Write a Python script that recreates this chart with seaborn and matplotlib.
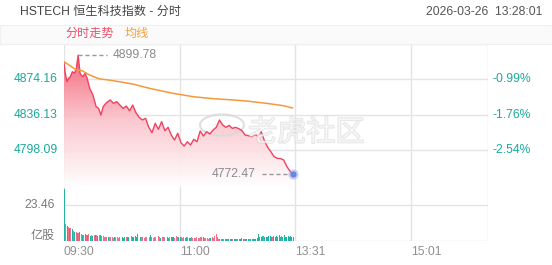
import numpy as np
import matplotlib
matplotlib.use("Agg")
import matplotlib.pyplot as plt
import matplotlib.patheffects as pe
from matplotlib.colors import LinearSegmentedColormap
from matplotlib.patches import Rectangle, Circle
import seaborn as sns

# ---------------- data ----------------
title = "HSTECH 恒生科技指数 - 分时"
stamp = "2026-03-26  13:28:01"
legend_labels = ["分时走势", "均线"]

price_minutes = [0, 1, 2.3, 3.5, 5, 6.5, 8, 9.5, 11, 12.5, 14.5, 16.5, 18, 20, 22.5, 25, 27,
                 28.7, 30.5, 33, 36, 38.5, 41, 43.5, 46, 48.5, 51, 53.5, 56, 58.5, 61, 63.5,
                 66, 68.5, 71, 73.5, 76, 78.5, 81, 83.5, 86, 88.5, 91, 93.5, 96, 98.5, 101,
                 103.5, 106, 108.5, 111, 113.5, 116, 118.5, 121, 123.5, 126, 128.5, 131,
                 133.5, 136, 138.5, 141, 143.5, 146, 148.5, 151, 153.5, 156, 158.5, 161,
                 163.5, 166, 168.5, 171, 173.5, 176, 178]
price_values = [4891.7, 4880.2, 4871.3, 4874.9, 4876.7, 4882.0, 4880.2, 4884.5, 4899.78,
                4880.2, 4876.7, 4880.2, 4874.9, 4864.2, 4857.0, 4844.5, 4842.7, 4835.6,
                4844.5, 4848.8, 4851.7, 4848.1, 4849.9, 4846.3, 4842.7, 4845.2, 4840.2,
                4846.3, 4838.1, 4833.1, 4830.3, 4832.0, 4822.4, 4816.7, 4826.7, 4820.3,
                4828.5, 4818.8, 4822.4, 4814.2, 4808.8, 4816.0, 4806.0, 4802.4, 4807.0,
                4803.5, 4809.6, 4807.0, 4818.5, 4813.1, 4817.8, 4815.3, 4819.5, 4822.4,
                4830.3, 4825.0, 4822.4, 4824.5, 4821.3, 4822.4, 4821.0, 4818.8, 4814.2,
                4813.5, 4812.4, 4814.6, 4813.1, 4817.8, 4808.1, 4801.0, 4796.3, 4791.0,
                4789.2, 4788.9, 4787.4, 4780.3, 4775.3, 4772.47]

avg_minutes = [0, 9, 14, 20, 27, 38, 53.5, 66.5, 85, 100.6, 116, 131.7, 142, 157.7, 170.7, 178]
avg_values = [4892.7, 4884.5, 4883.1, 4878.4, 4874.5, 4872.4, 4868.8, 4864.2, 4858.8,
              4855.2, 4853.1, 4851.7, 4850.6, 4848.1, 4845.6, 4843.1]

volume = [34.0, 11.0, 10.0, 9.3, 8.5, 8.3, 7.5, 6.5, 5.6, 6.0,
          5.5, 5.0, 5.6, 4.5, 4.0, 3.8, 4.3, 4.0, 3.6, 4.3,
          3.5, 4.0, 3.5, 3.9, 4.0, 3.6, 3.2, 4.2, 4.0, 3.5,
          3.0, 2.8, 2.6, 2.8, 2.4, 2.6, 2.3, 2.5, 2.2, 2.6,
          2.4, 2.6, 2.2, 2.5, 2.8, 2.4, 2.2, 2.6, 2.3, 2.8,
          2.5, 2.4, 3.0, 2.6, 2.8, 3.2, 2.6, 4.5, 2.8, 2.5,
          2.4, 2.6, 2.2, 2.5, 2.3, 2.8, 2.6, 4.0, 2.6, 2.2,
          2.8, 2.4, 2.6, 3.0, 2.4, 2.2, 2.8, 2.5, 2.3, 2.6,
          2.4, 2.2, 2.6, 2.3, 2.8, 2.5, 2.2, 3.0, 2.4, 2.6,
          2.4, 2.8, 2.2, 2.5, 2.0, 2.3, 2.6, 2.2, 2.0, 2.4,
          2.2, 1.8, 2.1, 2.4, 2.0, 2.2, 2.6, 2.5, 2.6, 2.0,
          1.8, 2.2, 1.6, 2.0, 1.8, 2.4, 2.2, 3.0, 4.5, 2.6,
          1.4, 1.2, 1.0, 1.3, 1.1, 1.5, 1.2, 1.0, 1.4, 1.2,
          1.0, 1.3, 1.6, 1.2, 1.0, 1.4, 1.5, 1.2, 2.0, 1.6,
          1.2, 1.5, 1.0, 1.3, 1.6, 1.2, 1.4, 1.1, 1.5, 1.3,
          2.2, 4.5, 2.8, 2.5, 3.0, 3.5, 2.6, 2.8, 2.4, 3.2,
          3.0, 2.4, 2.8, 3.4, 2.6, 3.0, 2.5, 3.6, 2.8, 3.0,
          2.6, 3.8, 2.8, 2.5, 3.2, 2.6, 3.0, 2.4, 2.8]
volume_dir = ("grgrgrgrgrgrgrgrgrgrgrgrgrgrgr"
              "rrrrgrrrrgrrrrr"
              "gggrgggrgggggrg"
              "rrrrrrrgrrrrrrrgrrrr"
              "ggrgggrrrggrrrggrggr"
              "rrrrrrrrgrrrrrgrrrrr"
              "rgggrggrgggrgggrggggrgggrggggg"
              "gggggrggggggrggggggrggggg")
volume_dir = volume_dir[:len(volume)].ljust(len(volume), "g")

price_ticks = [4874.16, 4836.13, 4798.09]
pct_ticks = ["-0.99%", "-1.76%", "-2.54%"]
vol_tick = 23.46
vol_tick_label = "23.46"
vol_unit = "亿股"
time_ticks = [0, 90, 180, 270]
time_labels = ["09:30", "11:00", "13:31", "15:01"]
high_value = 4899.78
high_minute = 11
last_value = 4772.47
last_minute = 178

# ---------------- style ----------------
sns.set_theme(style="white")
plt.rcParams["font.family"] = ["Liberation Sans", "Noto Sans CJK SC", "DejaVu Sans"]

RED = "#ef4260"
ORANGE = "#f39a3a"
TEAL = "#1aa99b"
GRID = "#e4e4e4"
W, H = 552, 265
FS = 8.7

fig = plt.figure(figsize=(W / 100, H / 100), dpi=100)
fig.patch.set_facecolor("white")

def fx(px):
    return px / W

def fy(py):
    return 1 - py / H

# legend band
fig.patches.append(Rectangle((0, fy(43.5)), 1, (43.5 - 25) / H, transform=fig.transFigure,
                             facecolor="#fafafa", edgecolor="#f0f0f0", lw=0.8, zorder=0))

ax = fig.add_axes([fx(64), fy(187), fx(424), (187 - 43.5) / H])
axv = fig.add_axes([fx(64), fy(241), fx(424), (241 - 187) / H])

YMIN, YMAX = 4758.5, 4912.2
XMAX = 330
for a in (ax, axv):
    a.set_facecolor("none")
    for s in a.spines.values():
        s.set_visible(False)
    a.set_xticks([])
    a.set_yticks([])
    for t in time_ticks + [XMAX]:
        a.axvline(t, color=GRID, lw=1, zorder=0)
    a.set_xlim(0, XMAX)

# price grid
for v in price_ticks + [4912.19]:
    ax.axhline(v, color=GRID, lw=1, zorder=0)

# gradient fill under price line
poly = ax.fill_between(price_minutes, price_values, YMIN, facecolor="none", edgecolor="none")
cmap = LinearSegmentedColormap.from_list("g", ["#ffffff", "#fbc3cb", "#f5566d"])
grad = np.linspace(0, 1, 256).reshape(-1, 1)
im = ax.imshow(grad, extent=[0, last_minute, YMIN, 4900], aspect="auto", origin="lower",
               cmap=cmap, alpha=0.9, zorder=1)
im.set_clip_path(poly.get_paths()[0], transform=ax.transData)

# watermark
ax.add_patch(Circle((222 / W, fy(125)), 22 / W, transform=fig.transFigure,
                    fill=False, edgecolor="#d8d8d8", lw=1.5, alpha=0.8, zorder=2))
fig.text(fx(248), fy(133), "老虎社区", fontsize=21, color="white", alpha=0.45,
         family=["Noto Sans CJK SC"], va="center", ha="left", zorder=3,
         path_effects=[pe.withStroke(linewidth=1.2, foreground="#c8c8c8")])

sns.lineplot(x=price_minutes, y=price_values, ax=ax, color=RED, lw=1.0, zorder=4)
sns.lineplot(x=avg_minutes, y=avg_values, ax=ax, color=ORANGE, lw=1.1, zorder=4)
ax.set_xlim(0, XMAX)
ax.set_ylim(YMIN, YMAX)

# high annotation
ax.plot([high_minute, 33.5], [high_value, high_value], color="#999999", lw=1,
        ls=(0, (3, 2)), zorder=5)
ax.text(38, high_value, f"{high_value:.2f}", color="#8a8a8a", fontsize=FS, va="center", ha="left")
# last annotation
ax.plot([154, 176], [last_value, last_value], color="#999999", lw=1, ls=(0, (3, 2)), zorder=5)
ax.text(149, last_value, f"{last_value:.2f}", color="#8a8a8a", fontsize=FS, va="center", ha="right")
ax.scatter([last_minute], [last_value], s=55, color="#8aa0ea", alpha=0.45, zorder=6, lw=0)
ax.scatter([last_minute], [last_value], s=20, color="#6b84e0", zorder=7, lw=0)

# y labels
ytr = ax.get_yaxis_transform()
for v, p in zip(price_ticks, pct_ticks):
    ax.text(-6 / 424, v, f"{v:.2f}", transform=ytr, ha="right", va="center", color=TEAL, fontsize=FS)
    ax.text(1 + 5 / 424, v, p, transform=ytr, ha="left", va="center", color=TEAL, fontsize=FS)

# volume
axv.axhline(vol_tick, color=GRID, lw=1, zorder=0)
axv.axhline(0, color=GRID, lw=1, zorder=0)
cols = ["#f0718a" if d == "r" else "#22b2a4" for d in volume_dir]
axv.bar(np.arange(len(volume)), volume, width=0.75, color=cols, align="edge", lw=0, zorder=3)
axv.set_ylim(0, 23.46 * 54 / 36)
vtr = axv.get_yaxis_transform()
axv.text(-9 / 424, vol_tick, vol_tick_label, transform=vtr, ha="right", va="center",
         color="#7a7a7a", fontsize=FS)
axv.text(-9 / 424, 23.46 * 5 / 36, vol_unit, transform=vtr, ha="right", va="center",
         color="#7a7a7a", fontsize=FS)
xtr = axv.get_xaxis_transform()
for t, lab in zip(time_ticks, time_labels):
    axv.text(t, -11 / 54, lab, transform=xtr, ha="left", va="center", color="#8f8f8f", fontsize=FS)

# header
fig.text(fx(20), fy(12), title, color="#444444", fontsize=FS, va="center", ha="left")
fig.text(fx(542), fy(12), stamp, color="#555555", fontsize=FS, va="center", ha="right")
fig.text(fx(65), fy(34), legend_labels[0], color="#ea4f69", fontsize=FS, va="center", ha="left")
fig.text(fx(125), fy(34), legend_labels[1], color="#f3a03c", fontsize=FS, va="center", ha="left")

fig.savefig("out.png", dpi=100, facecolor="white")
